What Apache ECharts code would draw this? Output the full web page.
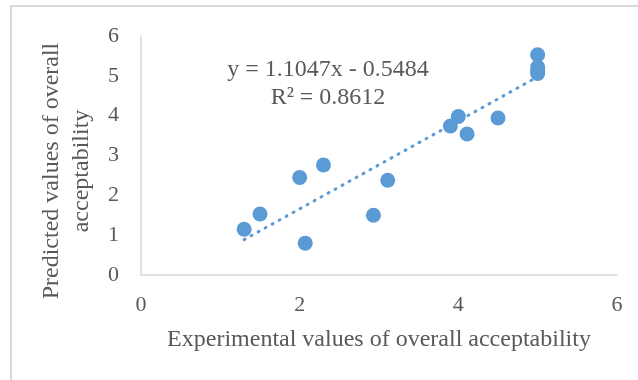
<!DOCTYPE html>
<html>
<head>
<meta charset="utf-8">
<script src="https://cdn.jsdelivr.net/npm/echarts@6/dist/echarts.min.js"></script>
<style>
html, body { margin: 0; padding: 0; background: #fff; }
#chart { width: 638px; height: 380px; }
</style>
</head>
<body>
<div id="chart"></div>
<script>
// experimental vs predicted values
var experimental = [1.30, 1.50, 2.00, 2.07, 2.30, 2.93, 3.11, 3.90, 4.00, 4.11, 4.50, 5.00, 5.00, 5.00, 5.00];
var predicted    = [1.15, 1.53, 2.45, 0.80, 2.76, 1.50, 2.38, 3.74, 3.98, 3.54, 3.94, 5.53, 5.22, 5.14, 5.06];
var xTicks = [0, 2, 4, 6];
var yTicks = [0, 1, 2, 3, 4, 5, 6];
// linear trend, as printed on the chart
var slope = 1.1047;
var intercept = -0.5484;
var trendX = [1.30, 5.00];

var points = experimental.map(function (x, i) { return [x, predicted[i]]; });
var trend = trendX.map(function (x) { return [x, slope * x + intercept]; });

var font = 'Liberation Serif';
var grey = '#595959';

var chart = echarts.init(document.getElementById('chart'));
chart.setOption({
    animation: false,
    grid: { left: 141, right: 21, top: 36, bottom: 105 },
    xAxis: {
        type: 'value',
        min: xTicks[0],
        max: xTicks[xTicks.length - 1],
        interval: 2,
        name: 'Experimental values of overall acceptability',
        nameLocation: 'middle',
        nameGap: 53,
        nameTextStyle: { fontFamily: font, fontSize: 24, color: grey },
        axisLine: { lineStyle: { color: '#d9d9d9', width: 1.5 } },
        axisTick: { show: false },
        splitLine: { show: false },
        axisLabel: { fontFamily: font, fontSize: 22, color: grey, margin: 19 }
    },
    yAxis: {
        type: 'value',
        min: yTicks[0],
        max: yTicks[yTicks.length - 1],
        interval: 1,
        axisLine: { show: true, lineStyle: { color: '#d9d9d9', width: 1.5 } },
        axisTick: { show: false },
        splitLine: { show: false },
        axisLabel: { fontFamily: font, fontSize: 22, color: grey, margin: 22 }
    },
    graphic: [
        {
            type: 'rect',
            shape: { x: 11, y: 6, width: 660, height: 420 },
            style: { fill: 'none', stroke: '#d9d9d9', lineWidth: 2 },
            z: -1
        },
        {
            type: 'text',
            x: 67, y: 171,
            rotation: Math.PI / 2,
            style: {
                text: 'Predicted values of overall\nacceptability',
                fontFamily: font, fontSize: 24, fill: grey,
                align: 'center', verticalAlign: 'middle', lineHeight: 30
            }
        },
        {
            type: 'text',
            x: 328, y: 84,
            style: {
                text: 'y = 1.1047x - 0.5484\nR² = 0.8612',
                fontFamily: font, fontSize: 24, fill: grey,
                align: 'center', verticalAlign: 'middle', lineHeight: 28
            }
        }
    ],
    series: [
        {
            type: 'line',
            data: trend,
            symbol: 'none',
            lineStyle: { color: '#5b9bd5', width: 3, type: [1, 7], cap: 'round' },
            z: 1
        },
        {
            type: 'scatter',
            data: points,
            symbolSize: 15,
            itemStyle: { color: '#5b9bd5', opacity: 1 },
            z: 2
        }
    ]
});
</script>
</body>
</html>
